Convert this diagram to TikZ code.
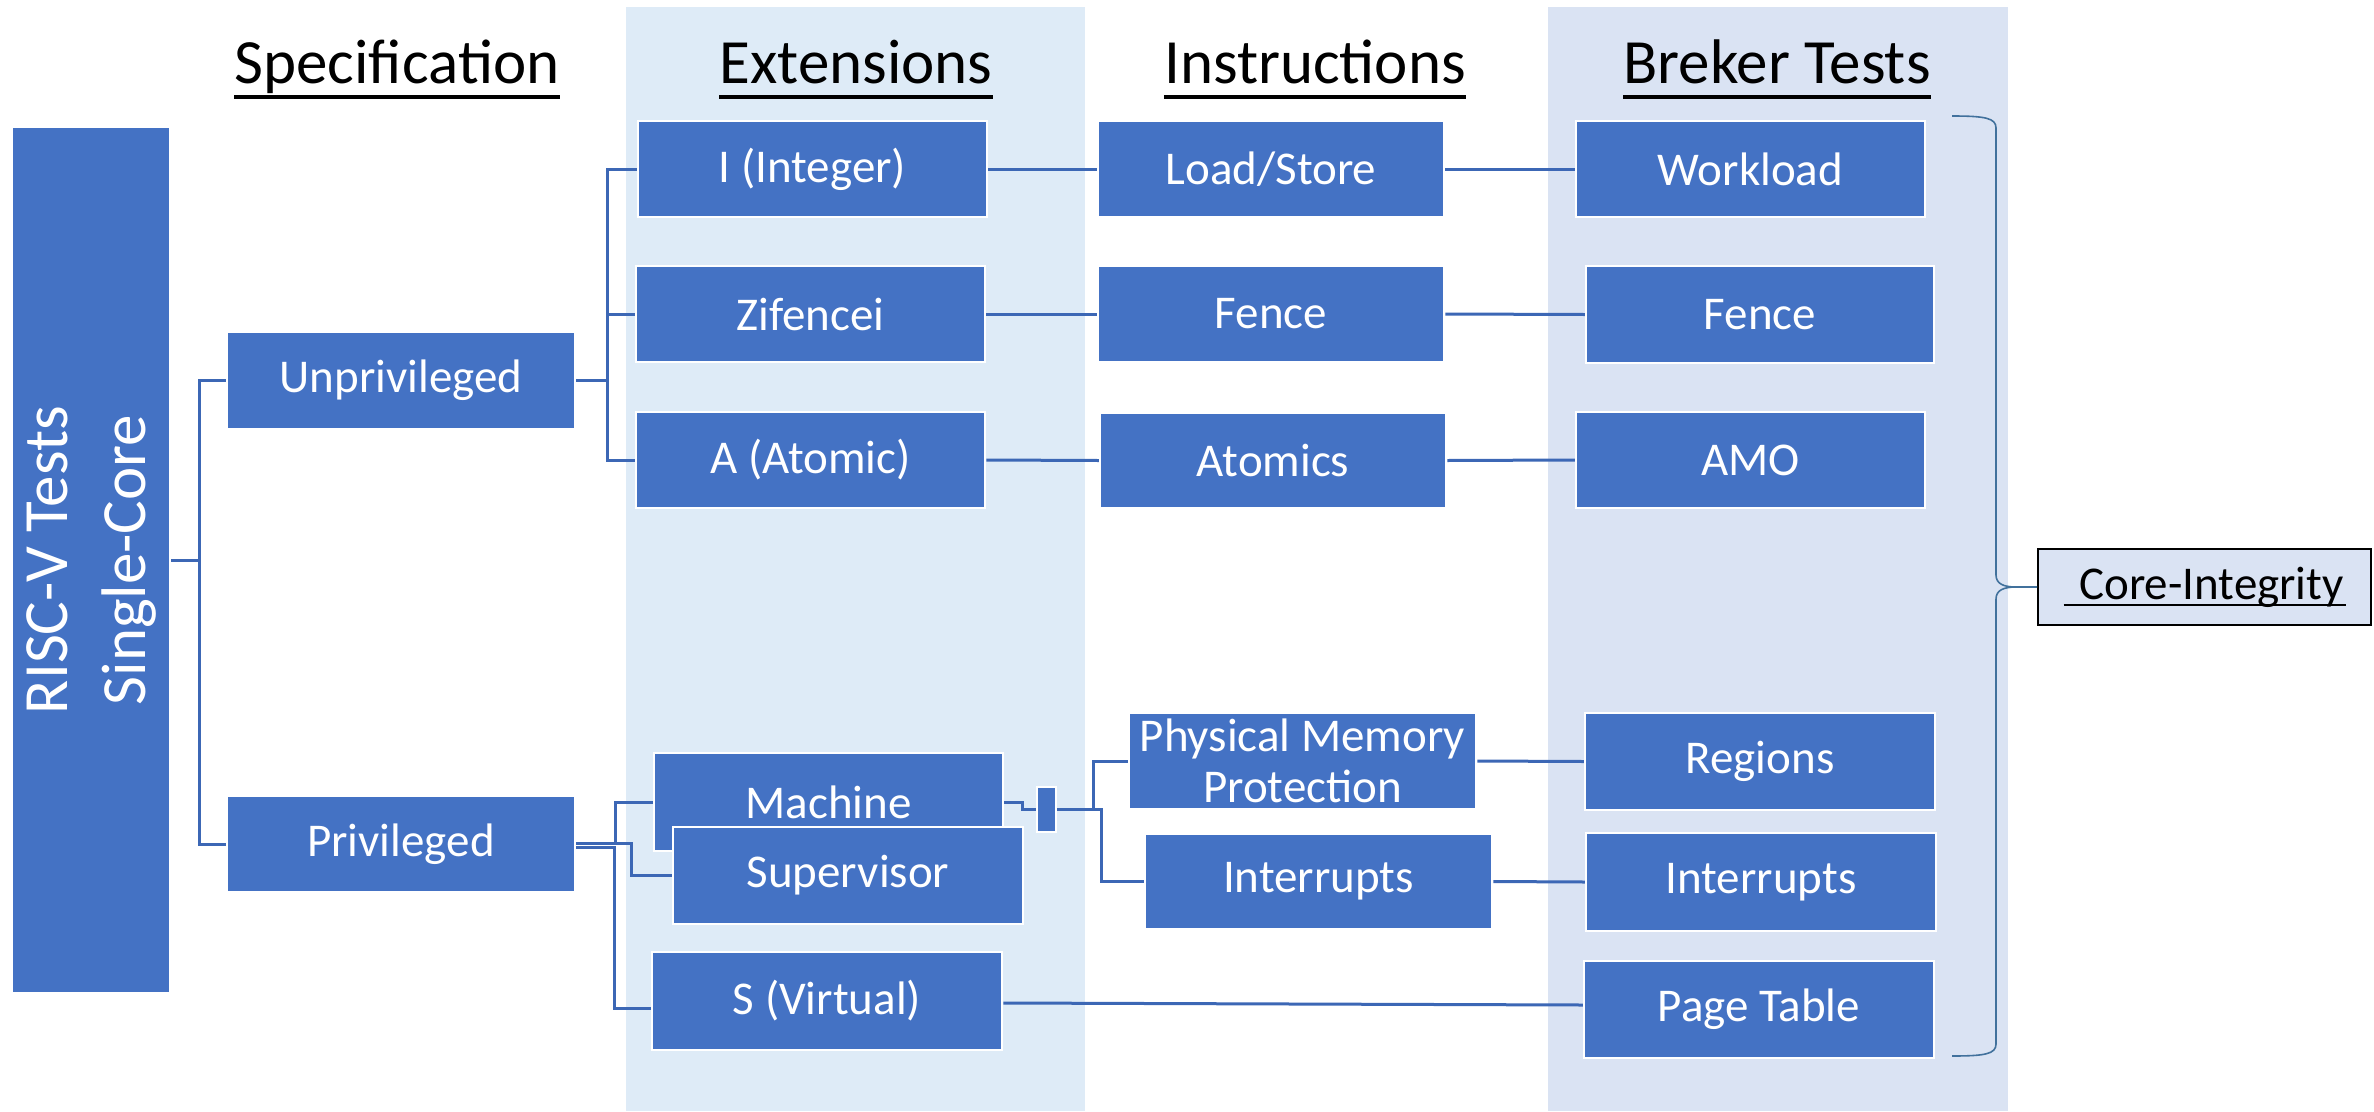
\documentclass[tikz,border=0pt]{standalone}
\usepackage{fontspec}
\setmainfont{Carlito}
\definecolor{boxblue}{HTML}{4472C4}
\definecolor{connblue}{HTML}{3C67B5}
\definecolor{extbg}{HTML}{DEEBF7}
\definecolor{brkbg}{HTML}{DAE3F3}
\definecolor{bracecol}{HTML}{41719C}
\newcommand\boxfont{\fontsize{47}{51}\selectfont}
\newcommand\hdrfont{\fontsize{63}{70}\selectfont}
\newcommand\riscfont{\fontsize{63}{78}\selectfont}
\begin{document}
\begin{tikzpicture}[x=1pt,y=-1pt,
  box/.style={draw=white, line width=2.5pt, fill=boxblue, text=white, inner sep=0pt, font=\boxfont, align=center},
  conn/.style={draw=connblue, line width=3pt},
  hdr/.style={inner sep=0pt, anchor=base, font=\hdrfont},
  uline/.style={line width=4pt, black}
]
\useasboundingbox (0,0) rectangle (2374,1111);
% column backgrounds
\fill[extbg] (626,7) rectangle (1085,1111);
\fill[brkbg] (1548,7) rectangle (2008,1111);
% headers
\node[hdr] (hs) at (397,83) {Specification};
\node[hdr] (he) at (856,83) {Extensions};
\node[hdr] (hi) at (1315,83) {Instructions};
\node[hdr] (hb) at (1777,83) {Breker Tests};
\foreach \h in {hs,he,hi,hb}
  \draw[uline] ([yshift=-14pt]\h.base west) -- ([yshift=-14pt]\h.base east);
% root
\node[box, rotate=90, minimum width=866, minimum height=158, font=\riscfont] (risc) at (91,560) {RISC-V Tests\\Single-Core};
% specification
\node[box, minimum width=348, minimum height=97] (unpriv) at (401,380.5) {Unprivileged};
\node[box, minimum width=348, minimum height=96] (priv) at (401,844) {Privileged};
% extensions
\node[box, minimum width=349, minimum height=96] (int) at (812.5,169) {I (Integer)};
\node[box, minimum width=349, minimum height=96] (zif) at (810.5,314) {Zifencei};
\node[box, minimum width=349, minimum height=96] (atom) at (810.5,460) {A (Atomic)};
\node[box, minimum width=349, minimum height=98] (mach) at (828.5,802) {Machine};
\node[box, minimum width=350, minimum height=97] (sup) at (848,875.5) {Supervisor};
\node[box, minimum width=350, minimum height=98] (sv) at (827,1001) {S (Virtual)};
\node[box, minimum width=19, minimum height=45] (small) at (1046.5,809.5) {};
% instructions
\node[box, minimum width=346, minimum height=96] (ls) at (1271,169) {Load/Store};
\node[box, minimum width=346, minimum height=96] (fence) at (1271,314) {Fence};
\node[box, minimum width=346, minimum height=95] (atomics) at (1273,460.5) {Atomics};
\node[box, minimum width=347, minimum height=96] (pmp) at (1302.5,761) {Physical Memory\\Protection};
\node[box, minimum width=347, minimum height=95] (intr) at (1318.5,881.5) {Interrupts};
% breker tests
\node[box, minimum width=349, minimum height=96] (work) at (1750.5,169) {Workload};
\node[box, minimum width=348, minimum height=97] (fenceb) at (1760,314.5) {Fence};
\node[box, minimum width=349, minimum height=96] (amo) at (1750.5,460) {AMO};
\node[box, minimum width=350, minimum height=97] (reg) at (1760,761.5) {Regions};
\node[box, minimum width=350, minimum height=98] (intb) at (1761,882) {Interrupts};
\node[box, minimum width=350, minimum height=97] (pt) at (1759,1009.5) {Page Table};
% core integrity
\node[draw=black, line width=2pt, fill=brkbg, inner sep=0pt, minimum width=333, minimum height=76, font=\boxfont] (core) at (2204.5,587) {\hspace{14pt}Core-Integrity};
\draw[line width=2.5pt] ([xshift=-141pt,yshift=-6pt]core.base) -- ([xshift=141pt,yshift=-6pt]core.base);
% connectors
\draw[conn] (risc.south) -- ++(28,0) |- (unpriv.west);
\draw[conn] (risc.south) -- ++(28,0) |- (priv.west);
\draw[conn] (unpriv.east) -- ++(31,0) |- (int.west);
\draw[conn] (unpriv.east) -- ++(31,0) |- (zif.west);
\draw[conn] (unpriv.east) -- ++(31,0) |- (atom.west);
\draw[conn] ([yshift=1pt]priv.east) -- ++(39,0) |- (mach.west);
\draw[conn] ([yshift=1pt]priv.east) -- ++(55,0) |- (sup.west);
\draw[conn] ([yshift=-3pt]priv.east) -- ++(38,0) |- ([yshift=-7pt]sv.west);
\draw[conn] (int.east) -- (ls.west);
\draw[conn] (ls.east) -- (work.west);
\draw[conn] (zif.east) -- (fence.west);
\draw[conn] (fence.east) -- (fenceb.west);
\draw[conn] (atom.east) -- (atomics.west);
\draw[conn] (atomics.east) -- (amo.west);
\draw[conn] (mach.east) -- ++(18,0) |- (small.west);
\draw[conn] (small.east) -- ++(36,0) |- (pmp.west);
\draw[conn] (small.east) -- ++(44,0) |- (intr.west);
\draw[conn] (pmp.east) -- (reg.west);
\draw[conn] (intr.east) -- (intb.west);
\draw[conn] ([yshift=-2pt]sv.east) -- ([yshift=4.5pt]pt.west);
% brace
\draw[bracecol, line width=1.6pt] (1952,116) .. controls (1985,116) and (1996,118) .. (1996,128) -- (1996,575)
  .. controls (1996,584) and (2004,587) .. (2016,587) -- (core.west);
\draw[bracecol, line width=1.6pt] (2016,587) .. controls (2004,587) and (1996,590) .. (1996,599) -- (1996,1044)
  .. controls (1996,1054) and (1985,1056) .. (1952,1056);
\end{tikzpicture}
\end{document}
